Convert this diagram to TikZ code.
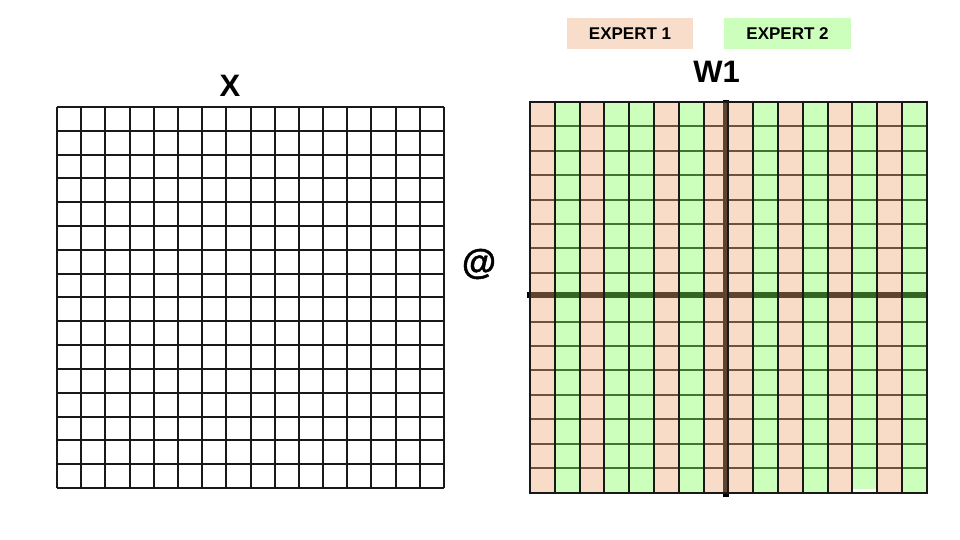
\documentclass[tikz,border=0pt]{standalone}
\usepackage{fontspec}
\setmainfont{Liberation Sans}
\newfontfamily\atfont[BoldFeatures={FakeBold=1.2}]{Liberation Sans}
\definecolor{peach}{RGB}{238,168,118}
\definecolor{lgreen}{RGB}{128,255,85}
\definecolor{peachbox}{RGB}{248,222,202}
\definecolor{greenbox}{RGB}{204,255,187}
\tikzset{
  gridline/.style={line width=2.1pt, draw=black!90},
  thickline/.style={line width=6pt, draw=black},
  overlayO/.style={fill=peach, fill opacity=0.4},
  overlayG/.style={fill=lgreen, fill opacity=0.4},
  legend/.style={minimum width=126pt, minimum height=31pt, inner sep=0pt,
    font=\fontsize{17}{20}\selectfont\bfseries},
  title/.style={anchor=base, inner sep=0pt, font=\fontsize{31}{36}\selectfont\bfseries}
}
\begin{document}
\begin{tikzpicture}[x=1pt,y=-1pt]
\useasboundingbox (0,0) rectangle (960,540);
\fill[white] (0,0) rectangle (960,540);

% ---------- X grid ----------
\foreach \i in {0,...,16}{
  \pgfmathsetmacro\gx{round(57+\i*24.19)}
  \pgfmathsetmacro\gy{round(107+\i*23.81)}
  \draw[gridline] (\gx,107) -- (\gx,488);
  \draw[gridline] (57,\gy) -- (444,\gy);
}
\node[title] (xlabel) at (230,97) {X};

% ---------- operator ----------
\node[inner sep=0pt, font=\fontsize{35}{40}\atfont\bfseries] (at) at (479,264) {@};

% ---------- W1 grid ----------
\def\wx{530}\def\wy{102}\def\wcw{24.8}\def\wrh{24.4}
\foreach \i in {1,...,15}{
  \pgfmathsetmacro\gy{round(\wy+\i*\wrh)}
  \draw[gridline] (\wx,\gy) -- (927,\gy);
}
\draw[thickline] (527,295) -- (927,295);
\draw[thickline] (726,100) -- (726,497);
% expert column overlays
\foreach \c/\s in {0/O,1/G,2/O,3/G,4/G,5/O,6/G,7/O,8/O,9/G,10/O,11/G,12/O,13/G,14/O,15/G}{
  \pgfmathsetmacro\ga{round(\wx+\c*\wcw)}
  \pgfmathsetmacro\gb{round(\wx+(\c+1)*\wcw)}
  \ifnum\c=13
    \fill[overlay\s] (\ga,103) rectangle (\gb,489);
  \else
    \fill[overlay\s] (\ga,103) rectangle (\gb,492);
  \fi
}
\foreach \i in {1,...,15}{
  \pgfmathsetmacro\gx{round(\wx+\i*\wcw)}
  \draw[gridline] (\gx,102) -- (\gx,493);
}
\draw[gridline] (530,102) rectangle (927,493);
\node[title] (wlabel) at (716.5,83) {W1};

% ---------- legend ----------
\node[legend, fill=peachbox] (exp1) at (630,33.5) {EXPERT 1};
\node[legend, fill=greenbox, minimum width=127pt] (exp2) at (787.5,33.5) {EXPERT 2};
\end{tikzpicture}
\end{document}
